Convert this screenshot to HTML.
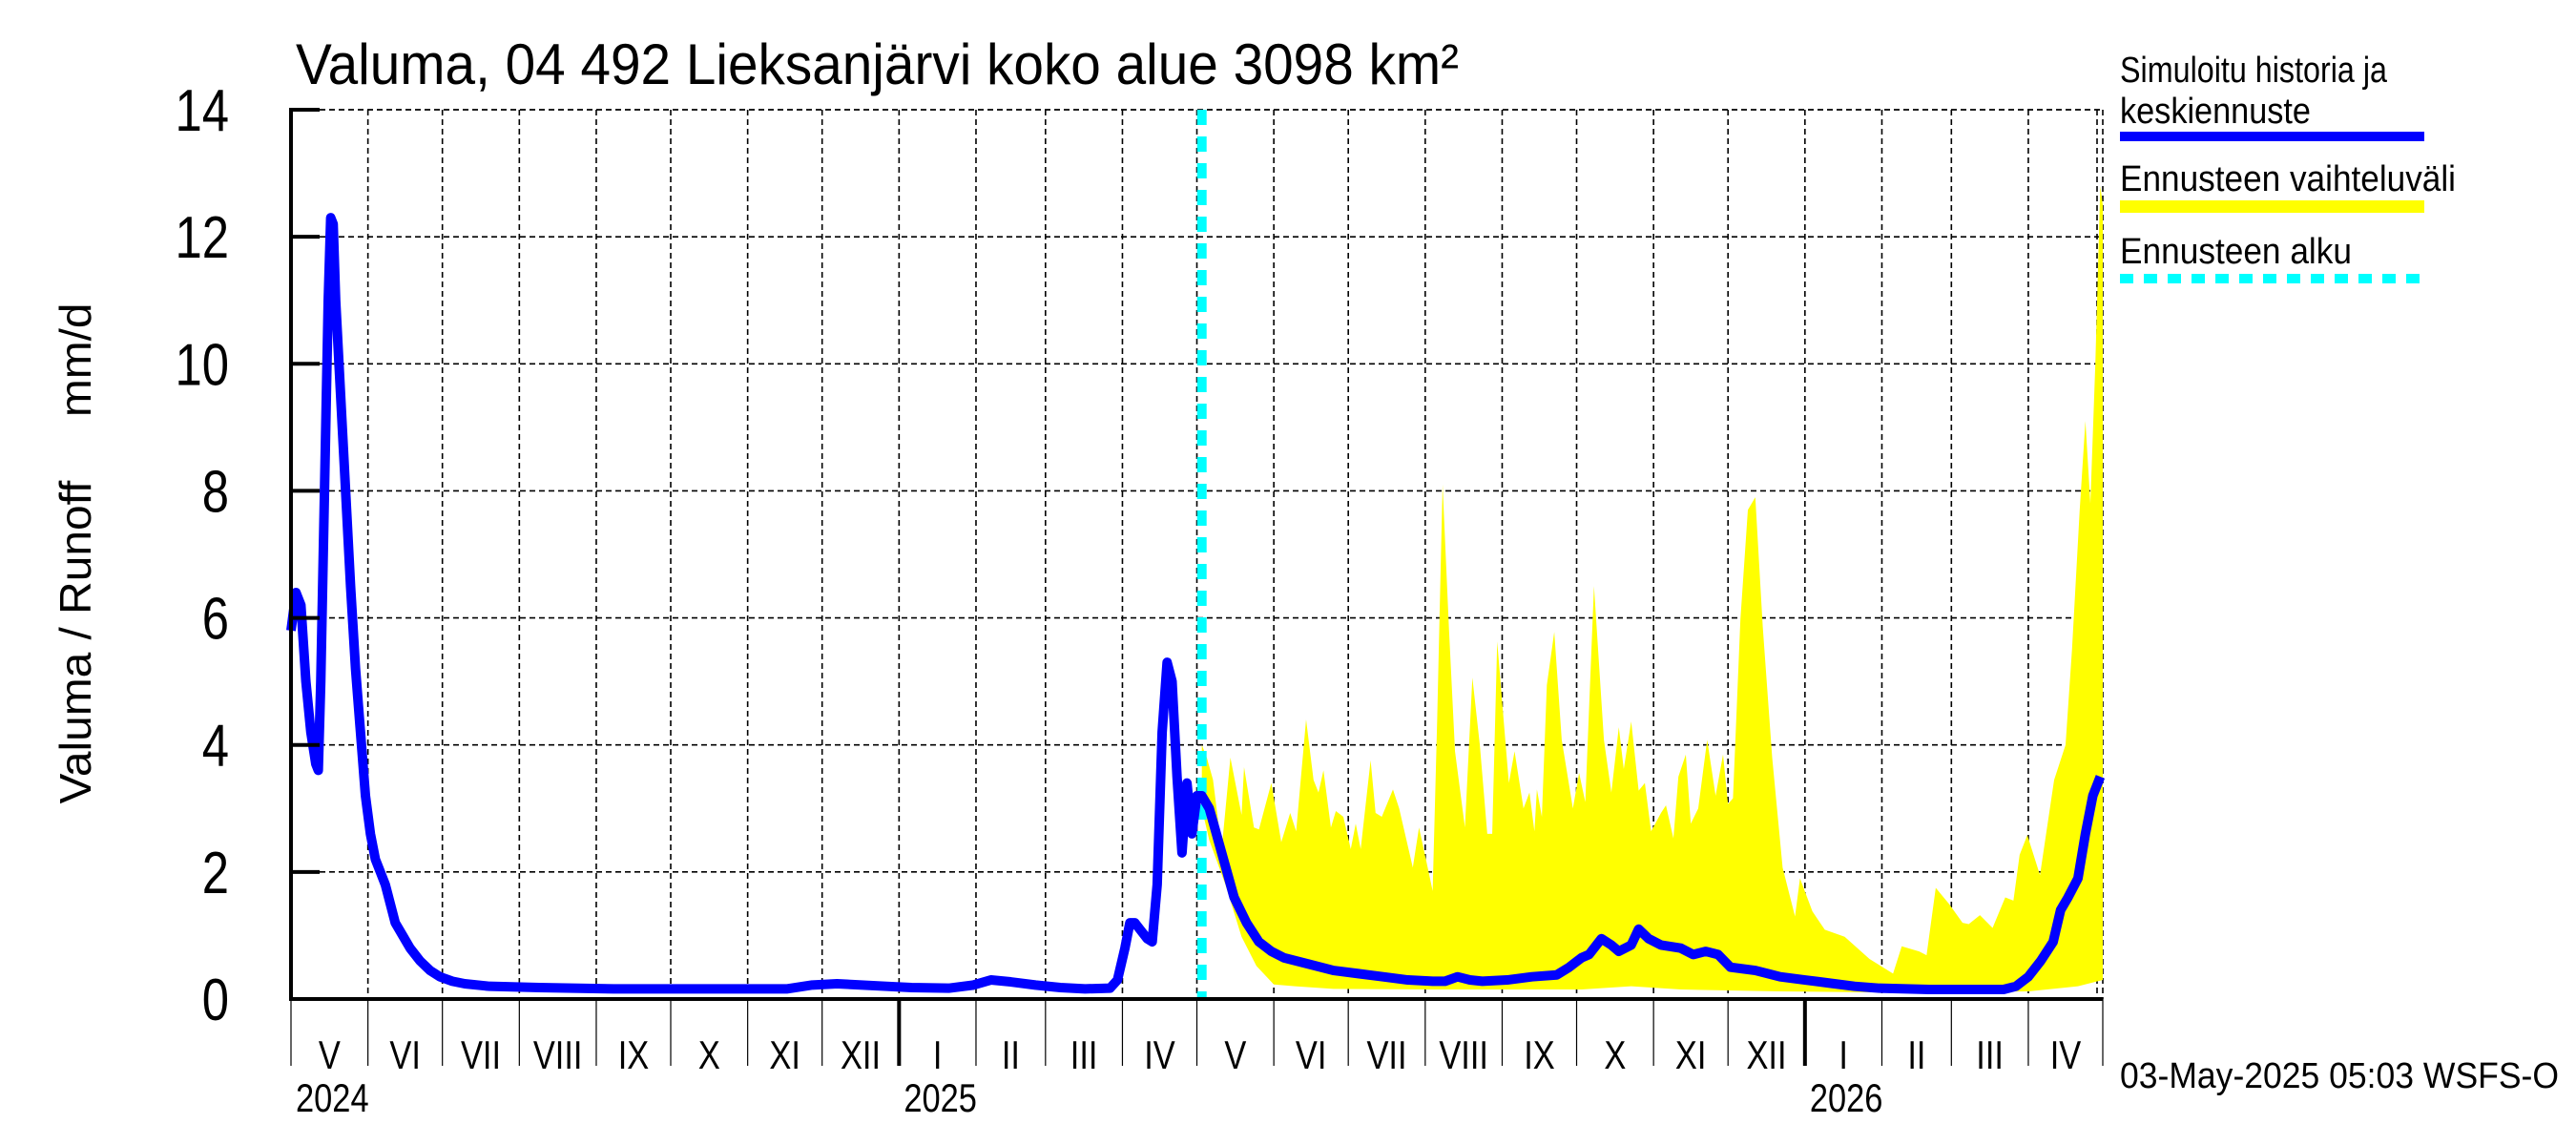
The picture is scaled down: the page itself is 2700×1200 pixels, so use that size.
<!DOCTYPE html>
<html><head><meta charset="utf-8"><style>
html,body{margin:0;padding:0;background:#fff;}
svg{display:block;font-family:"Liberation Sans",sans-serif;}
</style></head><body>
<svg id="chart" width="2700" height="1200" viewBox="0 0 2700 1200">
<g id="grid"></g>
<g id="band"></g>
<g id="lines"></g>
<g id="axes"></g>
<text x="310" y="88" font-size="60" textLength="1219" lengthAdjust="spacingAndGlyphs">Valuma, 04 492 Lieksanjärvi koko alue 3098 km²</text>
<text transform="translate(95,580) rotate(-90)" text-anchor="middle" font-size="46" textLength="525" lengthAdjust="spacingAndGlyphs" xml:space="preserve">Valuma / Runoff     mm/d</text>
<g>
<text x="2222" y="86" font-size="38" textLength="280" lengthAdjust="spacingAndGlyphs">Simuloitu historia ja</text>
<text x="2222" y="129" font-size="38" textLength="200" lengthAdjust="spacingAndGlyphs">keskiennuste</text>
<rect x="2222" y="138" width="319" height="10" fill="#0000ff"/>
<text x="2222" y="200" font-size="38" textLength="352" lengthAdjust="spacingAndGlyphs">Ennusteen vaihteluväli</text>
<rect x="2222" y="210" width="319" height="13" fill="#ffff00"/>
<text x="2222" y="276" font-size="38" textLength="243" lengthAdjust="spacingAndGlyphs">Ennusteen alku</text>
<line x1="2222" y1="292" x2="2541" y2="292" stroke="#00ffff" stroke-width="10" stroke-dasharray="14,11"/>
</g>
<text x="2222" y="1140" font-size="38" textLength="460" lengthAdjust="spacingAndGlyphs">03-May-2025 05:03 WSFS-O</text>
</svg>
<script>
const yTicks=[0,2,4,6,8,10,12,14];
const monthLabels=["V","VI","VII","VIII","IX","X","XI","XII","I","II","III","IV","V","VI","VII","VIII","IX","X","XI","XII","I","II","III","IV"];
const monthStartDays=[0,31,61,92,123,153,184,214,245,276,304,335,365,396,426,457,488,518,549,579,610,641,669,700,730];
const yearLabels=["2024","2025","2026"];
const yearStartDays=[0,245,610];
const forecastStartDay=367;
const histDays=[0,2,4,6,8,10,11,12,14,15,16,17,18,20,22,24,26,28,30,32,34,36,38,40,42,45,48,52,56,60,65,70,80,100,130,170,200,210,220,240,250,265,275,282,290,300,310,320,330,333,336,338,340,342,345,347,349,351,353,355,357,359,361,362,363,365,367];
const histVals=[5.8,6.4,6.2,5.0,4.2,3.7,3.6,5,9,11,12.3,12.2,11,9.5,8,6.5,5.2,4.2,3.2,2.6,2.2,2.0,1.8,1.5,1.2,1.0,0.8,0.6,0.45,0.35,0.28,0.24,0.2,0.18,0.16,0.16,0.16,0.22,0.24,0.2,0.18,0.17,0.22,0.3,0.27,0.22,0.18,0.16,0.17,0.3,0.8,1.2,1.2,1.1,0.95,0.9,1.8,4.2,5.3,5.0,3.5,2.3,3.4,3.0,2.6,3.2,3.2];
const fcDays=[367,370,375,380,385,390,395,400,410,420,430,440,450,460,465,470,475,480,490,500,510,515,520,523,528,532,535,540,543,547,552,560,565,570,575,580,590,600,610,620,630,640,660,690,695,700,705,710,713,716,720,723,726,729];
const fcVals=[3.2,3.0,2.3,1.6,1.2,0.9,0.75,0.65,0.55,0.45,0.4,0.35,0.3,0.28,0.28,0.35,0.3,0.28,0.3,0.35,0.38,0.5,0.65,0.7,0.95,0.85,0.75,0.85,1.1,0.95,0.85,0.8,0.7,0.75,0.7,0.5,0.45,0.35,0.3,0.25,0.2,0.17,0.15,0.15,0.2,0.35,0.6,0.9,1.4,1.6,1.9,2.6,3.2,3.5];
const upDays=[367,369,371.5,375,378.5,383,384,388,390,395,399,402.6,405,409,412,414,416,419,421,424,427,429,431,435,437,439.5,444,446.5,452,454.5,458,460,461.8,464,466.6,469,473,476,479,482,484,486,489,490.7,493,496.6,499,501,502,504,506,509,512,516.5,519,521.5,525,529,532,535,537,540,543,545.5,548,552,554,557,559,562,564,567,570.6,574,577,579,581,584,587,590,593,596.8,601,606,608,613,618,626,636,645.5,649,656,659,662.7,668,673.5,676,680.5,685.6,690.7,694,696.5,699.6,704.7,710.4,715,717.6,720.7,723,725,727,729,730];
const upVals=[4.0,3.8,3.45,2.36,3.8,2.9,3.65,2.7,2.67,3.4,2.47,2.93,2.64,4.4,3.45,3.25,3.6,2.7,2.96,2.87,2.36,2.76,2.36,3.76,2.93,2.87,3.3,3.0,2.07,2.7,2.07,1.7,4.37,8.1,5.8,3.9,2.7,5.06,4.0,2.6,2.6,5.63,4.2,3.4,3.9,3.0,3.25,2.64,3.3,2.87,4.94,5.78,4.08,3.0,3.56,3.1,6.5,4.08,3.25,4.28,3.62,4.37,3.28,3.4,2.64,2.93,3.05,2.53,3.5,3.85,2.76,3.0,4.08,3.2,3.85,3.07,3.16,5.98,7.7,7.9,5.86,3.8,2.07,1.3,1.9,1.38,1.09,0.98,0.63,0.4,0.83,0.75,0.69,1.75,1.5,1.2,1.18,1.32,1.12,1.6,1.55,2.27,2.58,1.95,3.45,4.0,5.5,7.7,9.1,7.8,10,12.8,12.5];
const loDays=[367,370,376.5,383,389,396,404.5,420,460,520,540,560,600,650,700,720,730];
const loVals=[3.0,2.5,1.8,0.98,0.52,0.23,0.2,0.16,0.15,0.15,0.2,0.15,0.12,0.1,0.12,0.2,0.3];

const NS="http://www.w3.org/2000/svg";
const X0=305,X1=2204,Y0=1047,YT=115,DAYS=730,VMAX=14;
function xs(d){return X0+d*(X1-X0)/DAYS;}
function ys(v){return Y0-v*(Y0-YT)/VMAX;}
function mk(tag,attrs,parent){const e=document.createElementNS(NS,tag);for(const k in attrs)e.setAttribute(k,attrs[k]);parent.appendChild(e);return e;}
const grid=document.getElementById('grid'),band=document.getElementById('band'),lines=document.getElementById('lines'),axes=document.getElementById('axes');

yTicks.forEach(v=>{
  if(v>0){const g=mk('line',{x1:X0,y1:ys(v),x2:X1,y2:ys(v),stroke:'#000','stroke-width':1.6,'stroke-dasharray':'6,4'},grid);
  
  }
  const t=mk('line',{x1:X0,y1:ys(v),x2:X0+30,y2:ys(v),stroke:'#000','stroke-width':4},axes);
  
  
  const l=mk('text',{transform:'translate(240,'+(ys(v)+22)+') scale(0.82,1)','font-size':62,'text-anchor':'end'},axes);
  l.textContent=v;
  
  
});
monthStartDays.forEach((d,i)=>{
  if(d>0){const g=mk('line',{x1:xs(d),y1:YT,x2:xs(d),y2:Y0,stroke:'#000','stroke-width':1.6,'stroke-dasharray':'6,4'},grid);
  
  }
  const yr=yearStartDays.indexOf(d)>0;
  const t=mk('line',{x1:xs(d),y1:Y0,x2:xs(d),y2:1117,stroke:'#000','stroke-width':yr?4:1.2},axes);
  
  
  if(i<monthLabels.length){
    const cx=(xs(d)+xs(monthStartDays[i+1]))/2;
    const l=mk('text',{transform:'translate('+cx+',1120) scale(0.82,1)','font-size':42,'text-anchor':'middle'},axes);
    l.textContent=monthLabels[i];
    
    
  }
});
mk('line',{x1:X0,y1:YT,x2:X1,y2:YT,stroke:'#000','stroke-width':1.6,'stroke-dasharray':'6,4'},grid);
mk('line',{x1:X1-6,y1:YT,x2:X1-6,y2:Y0,stroke:'#000','stroke-width':1.6,'stroke-dasharray':'6,4'},grid);
yearLabels.forEach((y,i)=>{
  const l=mk('text',{transform:'translate('+(xs(yearStartDays[i])+5)+',1165) scale(0.82,1)','font-size':42},axes);
  l.textContent=y;
  
  
});
let pts=upDays.map((d,i)=>xs(d)+','+ys(upVals[i]));
for(let i=loDays.length-1;i>=0;i--)pts.push(xs(loDays[i])+','+ys(loVals[i]));
const poly=mk('polygon',{points:pts.join(' '),fill:'#ffff00'},band);


const fs=mk('line',{x1:xs(forecastStartDay),y1:YT,x2:xs(forecastStartDay),y2:Y0,stroke:'#00ffff','stroke-width':10,'stroke-dasharray':'16,12'},lines);


const all=histDays.map((d,i)=>xs(d)+','+ys(histVals[i])).concat(fcDays.map((d,i)=>xs(d)+','+ys(fcVals[i])));
const bl=mk('polyline',{points:all.join(' '),fill:'none',stroke:'#0000ff','stroke-width':10,'stroke-linejoin':'round'},lines);


mk('line',{x1:X0,y1:YT-2,x2:X0,y2:Y0+2,stroke:'#000','stroke-width':4},axes);
mk('line',{x1:X0,y1:Y0,x2:X1,y2:Y0,stroke:'#000','stroke-width':4},axes);
</script>
</body></html>
